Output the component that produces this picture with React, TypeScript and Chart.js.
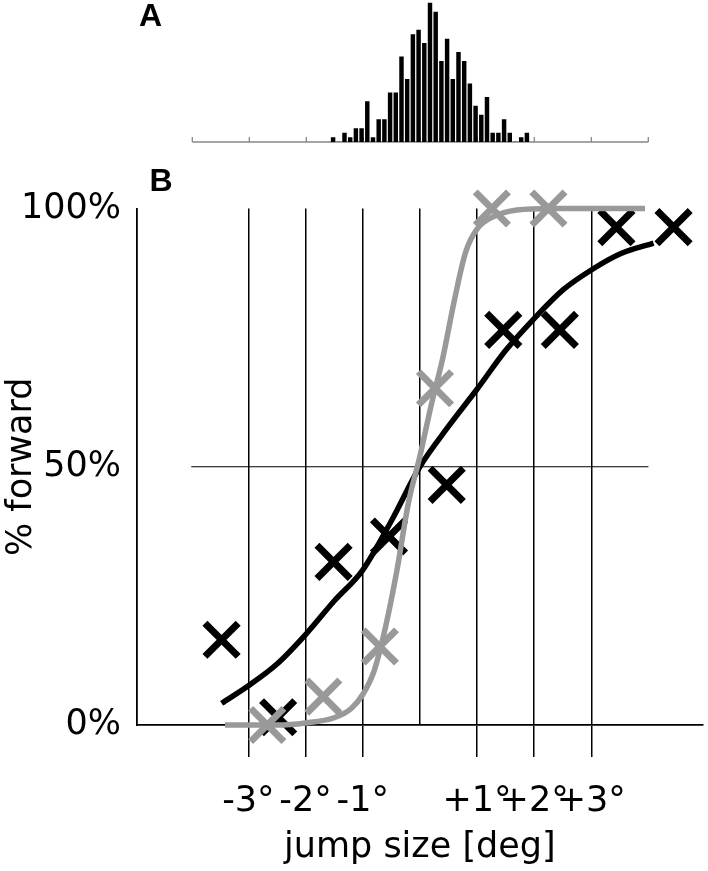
import React, { useEffect, useRef } from 'react';
import { Chart, registerables } from 'chart.js';

Chart.register(...registerables);

// ---------- Panel A: histogram of jump sizes ----------
const histCenters = [
  -1.53, -1.43, -1.33, -1.23, -1.13, -1.03, -0.93, -0.83, -0.73, -0.63,
  -0.53, -0.43, -0.33, -0.23, -0.13, -0.03, 0.07, 0.17, 0.27, 0.37,
  0.47, 0.57, 0.67, 0.77, 0.87, 0.97, 1.07, 1.17, 1.27, 1.37,
  1.47, 1.57, 1.67, 1.77, 1.87,
];
const histCounts = [
  1, 0, 2, 1, 3, 3, 9, 1, 5, 5,
  11, 11, 19, 14, 24, 25, 22, 31, 29, 18,
  23, 14, 20, 18, 13, 8, 6, 10, 2, 2,
  5, 2, 0, 1, 2,
];
const histTickValues = [-4, -3, -2, -1, 0, 1, 2, 3, 4];

// ---------- Panel B: psychometric data ----------
const xTickValues = [-3, -2, -1, 0, 1, 2, 3];
const xTickLabels = ['-3°', '-2°', '-1°', '', '+1°', '+2°', '+3°'];
const yTickValues = [0, 50, 100];
const yTickLabels = ['0%', '50%', '100%'];

const blackMarkX = [-3.47, -2.48, -1.51, -0.54, 0.47, 1.46, 2.45, 3.44, 4.44];
const blackMarkY = [16.5, 1.5, 31.6, 36.5, 46.5, 76.5, 76.5, 96.4, 96.4];

const grayMarkX = [-2.67, -1.69, -0.7, 0.265, 1.26, 2.25];
const grayMarkY = [0, 5.5, 15.2, 65.2, 100, 100];

const blackCurveX = [-3.47, -3, -2.5, -2, -1.5, -1, -0.5, 0, 0.5, 1, 1.5, 2, 2.5, 3, 3.5, 4.09];
const blackCurveY = [4.2, 7.6, 11.8, 17.5, 24, 30, 39.5, 50, 57.8, 65, 72.5, 78.7, 84.2, 88.1, 91.2, 93.3];

const grayCurveX = [-3.41, -2.5, -2, -1.5, -1.2, -1, -0.8, -0.6, -0.4, -0.2, 0, 0.2, 0.4, 0.6, 0.8, 1, 1.3, 1.7, 2.3, 3.94];
const grayCurveY = [0, 0, 0.4, 1.4, 3.2, 5.9, 10.5, 19, 30, 43, 52, 62, 71, 82, 91.5, 96, 98.5, 99.7, 100, 100];

const refLineX = [-4, 4];
const refLineY = 50;

const FONT = 'DejaVu Sans';
const FONT_SIZE = 35;
const GRAY = '#999999';

const histAxisPlugin = {
  id: 'histAxis',
  beforeDatasetsDraw(chart: any) {
    const { ctx, scales } = chart;
    const xs = scales.x;
    const y0 = scales.y.getPixelForValue(0);
    ctx.save();
    ctx.strokeStyle = '#888888';
    ctx.lineWidth = 1.3;
    ctx.beginPath();
    ctx.moveTo(xs.getPixelForValue(histTickValues[0]), y0);
    ctx.lineTo(xs.getPixelForValue(histTickValues[histTickValues.length - 1]), y0);
    for (const v of histTickValues) {
      const px = xs.getPixelForValue(v);
      ctx.moveTo(px, y0);
      ctx.lineTo(px, y0 - 5);
    }
    ctx.stroke();
    ctx.restore();
  },
};

function Histogram() {
  const ref = useRef<HTMLCanvasElement>(null);
  useEffect(() => {
    const chart = new Chart(ref.current!, {
      type: 'bar',
      data: {
        datasets: [
          {
            data: histCenters.map((x, i) => ({ x, y: histCounts[i] })),
            backgroundColor: '#000000',
            borderWidth: 0,
            barThickness: 3.8,
          } as any,
        ],
      },
      options: {
        animation: false,
        responsive: false,
        devicePixelRatio: 1,
        events: [],
        layout: { autoPadding: false, padding: { left: 192.3, right: 59.7, top: 0.9, bottom: 8 } },
        plugins: { legend: { display: false }, tooltip: { enabled: false } },
        scales: {
          x: { type: 'linear', min: -4, max: 4, offset: false, display: false },
          y: { min: 0, max: 31.5, display: false },
        },
      } as any,
      plugins: [histAxisPlugin],
    });
    return () => chart.destroy();
  }, []);
  return <canvas ref={ref} width={708} height={150} style={{ position: 'absolute', left: 0, top: 0, display: 'block' }} />;
}

function Psychometric() {
  const ref = useRef<HTMLCanvasElement>(null);
  useEffect(() => {
    const markerCommon = {
      showLine: false,
      pointStyle: 'crossRot',
      pointRadius: 23.5,
      pointHoverRadius: 23.5,
      pointBorderWidth: 7,
      pointHoverBorderWidth: 7,
      clip: false,
    };
    const curveCommon = {
      showLine: true,
      pointRadius: 0,
      pointHoverRadius: 0,
      borderWidth: 5.5,
      cubicInterpolationMode: 'monotone',
      clip: false,
    };
    const chart = new Chart(ref.current!, {
      type: 'scatter',
      data: {
        datasets: [
          {
            ...markerCommon,
            data: grayMarkX.map((x, i) => ({ x, y: grayMarkY[i] })),
            borderColor: GRAY,
            backgroundColor: GRAY,
            order: 0,
          } as any,
          {
            ...curveCommon,
            data: grayCurveX.map((x, i) => ({ x, y: grayCurveY[i] })),
            borderColor: GRAY,
            backgroundColor: GRAY,
            order: 1,
          } as any,
          {
            ...curveCommon,
            data: blackCurveX.map((x, i) => ({ x, y: blackCurveY[i] })),
            borderColor: '#000000',
            backgroundColor: '#000000',
            order: 2,
          } as any,
          {
            ...markerCommon,
            data: blackMarkX.map((x, i) => ({ x, y: blackMarkY[i] })),
            borderColor: '#000000',
            backgroundColor: '#000000',
            order: 3,
          } as any,
          {
            showLine: true,
            pointRadius: 0,
            borderWidth: 1.2,
            borderColor: '#000000',
            data: refLineX.map((x) => ({ x, y: refLineY })),
            order: 4,
          } as any,
        ],
      },
      options: {
        animation: false,
        responsive: false,
        devicePixelRatio: 1,
        events: [],
        layout: { autoPadding: false, padding: { left: 0, right: 5.3, top: 208.5, bottom: 0 } },
        plugins: { legend: { display: false }, tooltip: { enabled: false } },
        scales: {
          x: {
            type: 'linear',
            min: -4.95,
            max: 4.95,
            afterBuildTicks: (axis: any) => {
              axis.ticks = xTickValues.map((v) => ({ value: v }));
            },
            afterFit: (axis: any) => {
              axis.height = 146;
            },
            grid: {
              display: true,
              drawOnChartArea: true,
              drawTicks: true,
              color: '#000000',
              lineWidth: 1.5,
              tickLength: 32,
              tickWidth: 1.5,
              tickColor: (ctx: any) => (ctx.tick && ctx.tick.value === 0 ? 'rgba(0,0,0,0)' : '#000000'),
            },
            border: { display: true, color: '#000000', width: 1.8 },
            ticks: {
              autoSkip: false,
              maxRotation: 0,
              minRotation: 0,
              color: '#000000',
              padding: 24,
              font: { family: FONT, size: FONT_SIZE },
              callback: (v: any) => {
                const i = xTickValues.indexOf(Number(v));
                return i >= 0 ? xTickLabels[i] : '';
              },
            },
            title: {
              display: true,
              text: 'jump size [deg]',
              color: '#000000',
              font: { family: FONT, size: FONT_SIZE },
              padding: { top: 0, bottom: 2 },
            },
          },
          y: {
            min: 0,
            max: 100,
            afterBuildTicks: (axis: any) => {
              axis.ticks = yTickValues.map((v) => ({ value: v }));
            },
            afterFit: (axis: any) => {
              axis.width = 137;
            },
            grid: { display: false, drawTicks: false, tickLength: 0 },
            border: { display: true, color: '#000000', width: 1.8 },
            ticks: {
              color: '#000000',
              padding: 16,
              font: { family: FONT, size: FONT_SIZE },
              callback: (v: any) => {
                const i = yTickValues.indexOf(Number(v));
                return i >= 0 ? yTickLabels[i] : '';
              },
            },
            title: {
              display: true,
              text: '% forward',
              color: '#000000',
              font: { family: FONT, size: FONT_SIZE },
              padding: { top: 1, bottom: 0 },
            },
          },
        },
      } as any,
    });
    return () => chart.destroy();
  }, []);
  return <canvas ref={ref} width={708} height={871} style={{ position: 'absolute', left: 0, top: 0, display: 'block' }} />;
}

const panelLabel: React.CSSProperties = {
  position: 'absolute',
  fontFamily: '"Liberation Sans", Arial, sans-serif',
  fontWeight: 'bold',
  fontSize: '32px',
  lineHeight: '32px',
  color: '#000000',
  margin: 0,
  whiteSpace: 'nowrap',
};

export default function App() {
  return (
    <div style={{ position: 'fixed', left: 0, top: 0, width: 708, height: 871, background: '#ffffff', overflow: 'hidden' }}>
      <Psychometric />
      <Histogram />
      <div style={{ ...panelLabel, left: 139, top: -0.9 }}>A</div>
      <div style={{ ...panelLabel, left: 149.5, top: 164.1 }}>B</div>
    </div>
  );
}
